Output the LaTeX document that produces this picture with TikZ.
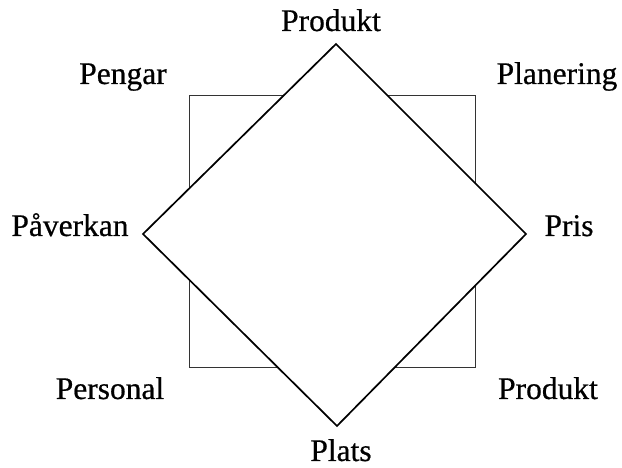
\documentclass[tikz,border=0pt]{standalone}
\usepackage{fontspec}
\setmainfont{Liberation Serif}
\newfontfamily\lblfont{Liberation Serif}[RawFeature={embolden=0.6}]
\begin{document}
\begin{tikzpicture}[x=1pt,y=1pt,
  lbl/.style={anchor=base,inner sep=0pt,font=\lblfont\fontsize{31.5}{34}\selectfont},
  sq/.style={draw=black!80,line width=1pt},
  dia/.style={draw=black,fill=white,line width=1.7pt,line join=miter}]
\useasboundingbox (0,0) rectangle (622,468);
% square
\coordinate (s1) at (189,372);
\coordinate (s2) at (475,100);
\draw[sq] (s1) rectangle (s2);
% diamond
\coordinate (dt) at (336,424);
\coordinate (dr) at (526,234);
\coordinate (db) at (337,42);
\coordinate (dl) at (143,234);
\draw[dia] (dt) -- (dr) -- (db) -- (dl) -- cycle;
% labels
\node[lbl] (produkt1) at (331,437) {Produkt};
\node[lbl] (pengar) at (123,384) {Pengar};
\node[lbl] (planering) at (557,384) {Planering};
\node[lbl] (paverkan) at (70,232) {Påverkan};
\node[lbl] (pris) at (569,232) {Pris};
\node[lbl] (personal) at (110,69) {Personal};
\node[lbl] (produkt2) at (548,69) {Produkt};
\node[lbl] (plats) at (341,7) {Plats};
\end{tikzpicture}
\end{document}
